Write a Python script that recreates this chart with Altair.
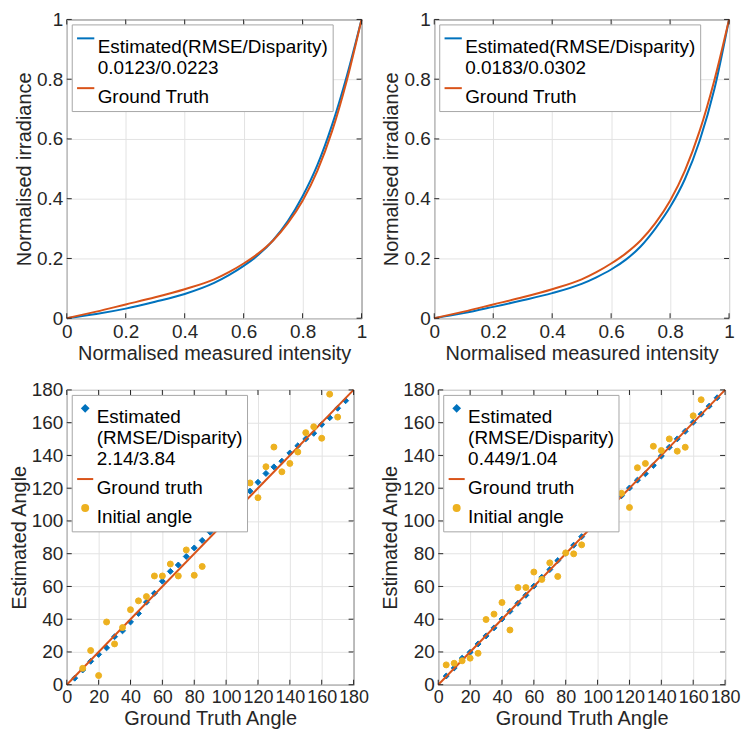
import altair as alt
import pandas as pd

FONT = "Liberation Sans"
BLUE = "#0072BD"
ORANGE = "#D95319"
YELLOW = "#EDB120"
TXT = "#262626"
FS = 20
LFS = 19
LEG_FS = 19

# ---- top panels: response curves ----
curve_x = [0, 0.1, 0.2, 0.3, 0.4, 0.5, 0.55, 0.6, 0.65, 0.7, 0.75, 0.8, 0.85, 0.9, 0.95, 1.0]
gt_y = [0, 0.022, 0.046, 0.07, 0.097, 0.13, 0.154, 0.183, 0.217, 0.26, 0.318, 0.393, 0.493, 0.626, 0.796, 1.0]
est1_y = [0, 0.014, 0.032, 0.055, 0.081, 0.118, 0.144, 0.175, 0.212, 0.261, 0.325, 0.408, 0.512, 0.647, 0.811, 1.0]
est2_y = [0, 0.017, 0.038, 0.06, 0.084, 0.115, 0.137, 0.163, 0.196, 0.24, 0.300, 0.372, 0.465, 0.593, 0.766, 1.0]
curve_ticks = [0, 0.2, 0.4, 0.6, 0.8, 1.0]
curve_legend_1 = ["Estimated(RMSE/Disparity)", "0.0123/0.0223"]
curve_legend_2 = ["Estimated(RMSE/Disparity)", "0.0183/0.0302"]
curve_gt_label = "Ground Truth"

# ---- bottom panels: angles ----
angle_x = list(range(5, 180, 5))
est_angle_1 = [4, 9, 14.3, 18.5, 22.5, 29.3, 32.9, 38.3, 43.5, 50.4, 55.8, 63.2, 69.2, 73.1, 78.3,
               83.5, 88.1, 93.1, 97.3, 103, 108, 113, 118.2, 123.6, 129, 133, 136.5, 141.5, 145.9,
               150.1, 153.5, 158.9, 163, 168.8, 173.4]
init_x_1 = list(range(10, 175, 5))
init_angle_1 = [10, 20.9, 5.6, 38.3, 24.9, 34.9, 45.8, 51.2, 53.8, 66.4, 66.4, 73.7, 66.4, 82.3, 66.8,
                72.2, 97.7, 105, 102.3, 105.4, 106.2, 123.2, 114.2, 133.1, 145.1, 130, 135.1, 142.1,
                153.9, 157.5, 150.5, 177.4, 163.4]
est_angle_2 = [5.3, 10.2, 16.2, 19.8, 24.9, 29.8, 34.7, 40.1, 44.8, 49.7, 54.6, 60.2, 65.6, 70.3, 75.8,
               80.3, 85.2, 90.4, 95.6, 100.3, 105.2, 110.4, 115.4, 120.1, 124.9, 128.8, 133.9, 139.6,
               145, 150.1, 154.7, 160.2, 165.2, 170.1, 175.2]
init_x_2 = list(range(5, 170, 5))
init_angle_2 = [12.1, 13.1, 14.6, 16.2, 19.2, 39.8, 43.1, 50.2, 33.4, 59.3, 59.3, 68.8, 64.3, 74.4, 66.1,
                80.5, 79.9, 85.4, 105.2, 96.7, 114.3, 124.8, 116.9, 108.2, 132.5, 135.1, 145.6, 143,
                150.1, 142.6, 145, 164.2, 174]
gt_line_x = [0, 180]
angle_ticks = list(range(0, 181, 20))
angle_legend_1 = ["Estimated", "(RMSE/Disparity)", "2.14/3.84"]
angle_legend_2 = ["Estimated", "(RMSE/Disparity)", "0.449/1.04"]
angle_gt_label = "Ground truth"
angle_init_label = "Initial angle"

CHANNELS = ["color", "fill", "stroke", "shape", "size"]


def js_list(items):
    return "[" + ", ".join("'" + s + "'" for s in items) + "]"


def legend(expr, symbol_size):
    return alt.Legend(
        title=None, orient="top-left", offset=5, fillColor="white", strokeColor="#a6a6a6",
        padding=4, labelExpr=expr, labelFontSize=LEG_FS, labelFont=FONT, labelColor="black",
        symbolSize=symbol_size, symbolStrokeWidth=2, rowPadding=0, labelLimit=0,
        labelOffset=2, cornerRadius=0, labelBaseline="top",
    )


def inward_ticks(xenc, yenc, xticks, yticks, w, h):
    dfx = pd.DataFrame({"x": xticks})
    dfy = pd.DataFrame({"y": yticks})
    base_x = alt.Chart(dfx).mark_tick(size=5, thickness=1, color=TXT, opacity=1)
    base_y = alt.Chart(dfy).mark_tick(size=5, thickness=1, color=TXT, opacity=1)
    return [
        base_x.encode(x=xenc, y=alt.value(h - 2.5)),
        base_x.encode(x=xenc, y=alt.value(2.5)),
        base_y.encode(y=yenc, x=alt.value(2.5)),
        base_y.encode(y=yenc, x=alt.value(w - 2.5)),
    ]


def curve_panel(ey, est_label, w, h):
    rows = [{"x": a, "y": b, "s": "est"} for a, b in zip(curve_x, ey)]
    rows += [{"x": a, "y": b, "s": "gt"} for a, b in zip(curve_x, gt_y)]
    df = pd.DataFrame(rows)
    expr = "datum.label == 'est' ? " + js_list(est_label) + " : '" + curve_gt_label + "'"
    xenc = alt.X("x:Q", scale=alt.Scale(domain=[0, 1], nice=False),
                 axis=alt.Axis(values=curve_ticks, format="~g", title="Normalised measured intensity"))
    yenc = alt.Y("y:Q", scale=alt.Scale(domain=[0, 1], nice=False),
                 axis=alt.Axis(values=curve_ticks, format="~g", title="Normalised irradiance"))
    lines = alt.Chart(df).mark_line(interpolate="monotone", strokeWidth=2).encode(
        x=xenc, y=yenc,
        color=alt.Color("s:N", scale=alt.Scale(domain=["est", "gt"], range=[BLUE, ORANGE]),
                        legend=legend(expr, 300)),
    )
    return alt.layer(lines, *inward_ticks(xenc, yenc, curve_ticks, curve_ticks, w, h)).properties(
        width=w, height=h)


def angle_panel(est, ix, init, est_label, w, h):
    df_est = pd.DataFrame({"x": angle_x, "y": est, "s": "est"})
    df_gt = pd.DataFrame({"x": gt_line_x, "y": gt_line_x, "s": "gt"})
    df_init = pd.DataFrame({"x": ix, "y": init, "s": "init"})
    dom = ["est", "gt", "init"]
    expr = ("datum.label == 'est' ? " + js_list(est_label) + " : (datum.label == 'gt' ? '"
            + angle_gt_label + "' : '" + angle_init_label + "')")
    xenc = alt.X("x:Q", scale=alt.Scale(domain=[0, 180], nice=False),
                 axis=alt.Axis(values=angle_ticks, title="Ground Truth Angle", labelFontSize=18))
    yenc = alt.Y("y:Q", scale=alt.Scale(domain=[0, 180], nice=False),
                 axis=alt.Axis(values=angle_ticks, title="Estimated Angle"))
    lg = legend(expr, 36)
    stroke = alt.Stroke("s:N", scale=alt.Scale(domain=dom, range=[BLUE, ORANGE, YELLOW]), legend=lg)
    fill = alt.Fill("s:N", scale=alt.Scale(domain=dom, range=[BLUE, ORANGE, YELLOW]), legend=lg)
    shape = alt.Shape("s:N", scale=alt.Scale(domain=dom, range=["diamond", "stroke", "circle"]), legend=lg)
    size = alt.Size("s:N", scale=alt.Scale(type="ordinal", domain=dom, range=[36, 260, 36]), legend=lg)
    p_est = alt.Chart(df_est).mark_point(filled=True, strokeWidth=1, opacity=1).encode(
        x=xenc, y=yenc, fill=fill, stroke=stroke, shape=shape, size=size)
    l_gt = alt.Chart(df_gt).mark_line(strokeWidth=2).encode(x=xenc, y=yenc, stroke=stroke)
    p_init = alt.Chart(df_init).mark_point(filled=True, strokeWidth=1, opacity=1).encode(
        x=xenc, y=yenc, fill=fill, stroke=stroke, shape=shape, size=size)
    return alt.layer(p_est, l_gt, p_init, *inward_ticks(xenc, yenc, angle_ticks, angle_ticks, w, h)).properties(
        width=w, height=h)


def indep(c):
    return c.resolve_scale(**{k: "independent" for k in CHANNELS}).resolve_legend(
        **{k: "independent" for k in CHANNELS})


top = indep(alt.hconcat(curve_panel(est1_y, curve_legend_1, 296, 300),
                        curve_panel(est2_y, curve_legend_2, 296, 300), spacing=14))
bottom = indep(alt.hconcat(angle_panel(est_angle_1, init_x_1, init_angle_1, angle_legend_1, 288, 296),
                           angle_panel(est_angle_2, init_x_2, init_angle_2, angle_legend_2, 288, 296),
                           spacing=10))

chart = indep(alt.vconcat(top, bottom, spacing=16)).properties(padding=0).configure_view(
    stroke=TXT, strokeWidth=1
).configure_axis(
    labelFont=FONT, titleFont=FONT, labelFontSize=LFS, titleFontSize=FS,
    labelColor=TXT, titleColor=TXT, titleFontWeight="normal", gridColor="#e3e3e3",
    domain=False, ticks=False, labelPadding=4, titlePadding=2, labelOverlap=False,
    labelFlush=False,
)

chart.save("out.html", embed_options={"renderer": "svg", "actions": False})
